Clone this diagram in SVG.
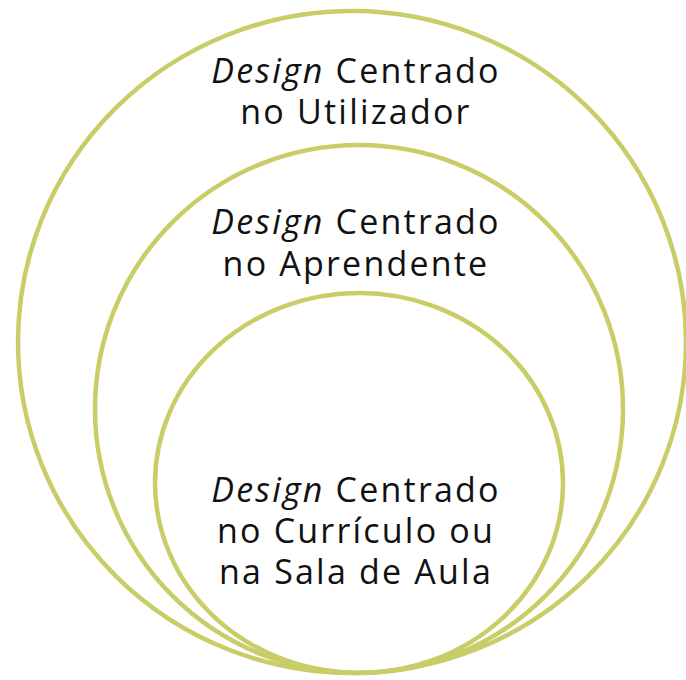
<svg xmlns="http://www.w3.org/2000/svg" width="686" height="680" viewBox="0 0 686 680">
<style>
.ring{fill:none;stroke:#C9CD68;stroke-width:4.5}
.lbl{font-family:"Open Sans","DejaVu Sans",sans-serif;font-size:34px;letter-spacing:2.2px;fill:#111;text-anchor:middle}
.it{font-style:italic}
</style>
<rect width="686" height="680" fill="#fff"/>
<g id="outer">
<ellipse class="ring" cx="352" cy="342" rx="334" ry="331"/>
<text class="lbl" x="356" y="83"><tspan class="it">Design</tspan> Centrado</text>
<text class="lbl" x="356" y="124">no Utilizador</text>
</g>
<g id="middle">
<ellipse class="ring" cx="359" cy="409" rx="264" ry="264"/>
<text class="lbl" x="356" y="234"><tspan class="it">Design</tspan> Centrado</text>
<text class="lbl" x="356" y="276">no Aprendente</text>
</g>
<g id="inner">
<ellipse class="ring" cx="359" cy="483" rx="204" ry="190"/>
<text class="lbl" x="356" y="502"><tspan class="it">Design</tspan> Centrado</text>
<text class="lbl" x="356" y="543">no Currículo ou</text>
<text class="lbl" x="356" y="584">na Sala de Aula</text>
</g>
<g id="connectors"></g>
</svg>
